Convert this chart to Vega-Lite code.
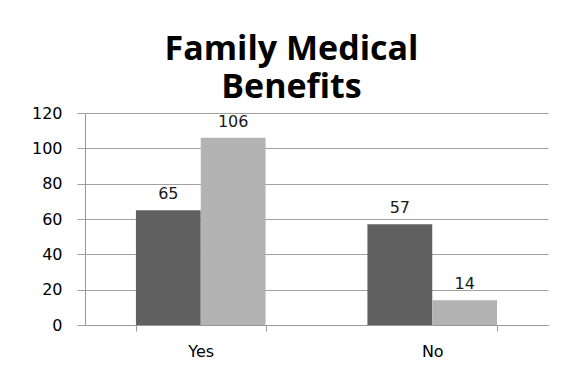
{
  "$schema": "https://vega.github.io/schema/vega-lite/v6.json",
  "autosize": {"type": "none"},
  "padding": {"left": 85, "top": 113, "right": 21, "bottom": 51},
  "width": 463,
  "height": 212,
  "background": "white",
  "title": {
    "text": ["Family Medical", "Benefits"],
    "font": "Open Sans",
    "fontSize": 34,
    "fontWeight": "bold",
    "color": "#000000",
    "anchor": "middle",
    "dx": -25,
    "offset": 0,
    "lineHeight": 38
  },
  "data": {
    "values": [
      {"answer": "Yes", "series": "Series1", "count": 65},
      {"answer": "Yes", "series": "Series2", "count": 106},
      {"answer": "No", "series": "Series1", "count": 57},
      {"answer": "No", "series": "Series2", "count": 14}
    ]
  },
  "encoding": {
    "x": {
      "field": "answer",
      "type": "nominal",
      "sort": ["Yes", "No"],
      "title": null,
      "scale": {"paddingInner": 0.44, "paddingOuter": 0.22},
      "axis": {
        "tickBand": "extent",
        "labelAngle": 0,
        "labelFont": "DejaVu Sans",
        "labelFontSize": 16,
        "labelColor": "#000000",
        "labelPadding": 12,
        "tickSize": 6,
        "tickColor": "#999999",
        "domainColor": "#999999",
        "grid": false
      }
    },
    "xOffset": {
      "field": "series",
      "type": "nominal",
      "scale": {"paddingInner": 0, "paddingOuter": 0}
    },
    "y": {
      "field": "count",
      "type": "quantitative",
      "title": null,
      "scale": {"domain": [0, 120], "nice": false},
      "axis": {
        "values": [0, 20, 40, 60, 80, 100, 120],
        "labelFont": "DejaVu Sans",
        "labelFontSize": 16,
        "labelColor": "#000000",
        "labelPadding": 15,
        "tickSize": 8,
        "tickColor": "#a0a0a0",
        "domainColor": "#999999",
        "gridColor": "#a0a0a0",
        "gridOpacity": 1
      }
    }
  },
  "layer": [
    {
      "mark": {"type": "bar", "stroke": null},
      "encoding": {
        "color": {
          "field": "series",
          "type": "nominal",
          "scale": {"range": ["#606060", "#b3b3b3"]},
          "legend": null
        }
      }
    },
    {
      "mark": {
        "type": "text",
        "baseline": "alphabetic",
        "dy": -11,
        "font": "DejaVu Sans",
        "fontSize": 16,
        "color": "#1a1a1a"
      },
      "encoding": {"text": {"field": "count", "type": "quantitative"}}
    }
  ],
  "config": {"view": {"stroke": null}}
}
